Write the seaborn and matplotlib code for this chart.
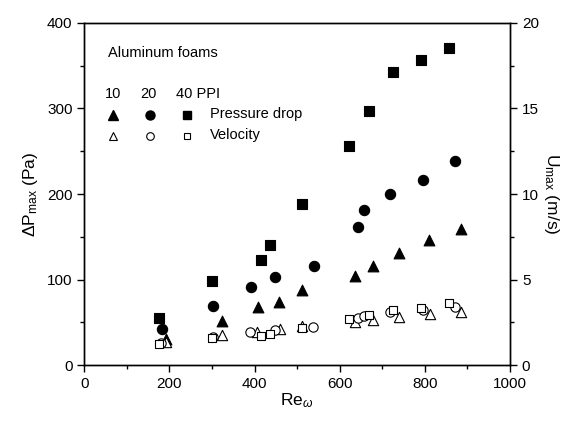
import numpy as np
import pandas as pd
import matplotlib
matplotlib.use("Agg")
import matplotlib.pyplot as plt
import seaborn as sns
from matplotlib.ticker import MultipleLocator

# ---- data ----
re_10 = [191, 324, 408, 457, 512, 636, 677, 740, 810, 885]
re_20 = [182, 303, 391, 449, 539, 643, 657, 718, 795, 871]
re_40 = [176, 300, 414, 435, 511, 622, 669, 725, 792, 856]
dp_10 = [30.5, 52, 67.6, 74, 88, 104.7, 116.4, 131, 146.5, 159]
dp_20 = [42, 69.5, 91, 102.7, 116, 161, 181, 199.6, 216, 238]
dp_40 = [54.7, 98.8, 123, 140, 188.7, 256, 297, 342, 356, 371]
reu_10 = [191, 324, 406, 459, 512, 635, 677, 740, 812, 885]
reu_20 = [180, 303, 390, 449, 537, 643, 657, 718, 795, 871]
reu_40 = [176, 300, 414, 435, 511, 621, 669, 725, 792, 856]
u_10 = [1.37, 1.78, 1.95, 2.10, 2.27, 2.50, 2.65, 2.83, 2.99, 3.12]
u_20 = [1.29, 1.68, 1.95, 2.07, 2.25, 2.74, 2.89, 3.09, 3.22, 3.42]
u_40 = [1.23, 1.58, 1.72, 1.82, 2.20, 2.70, 2.93, 3.24, 3.36, 3.63]

sns.set_style("ticks")
plt.rcParams['font.family'] = ['Liberation Sans', 'DejaVu Sans']
plt.rcParams['mathtext.fontset'] = 'custom'
plt.rcParams['mathtext.rm'] = 'Liberation Sans'
plt.rcParams['mathtext.it'] = 'Liberation Sans:italic'
plt.rcParams['mathtext.sf'] = 'Liberation Sans'
plt.rcParams['text.color'] = 'black'
plt.rcParams['axes.labelcolor'] = 'black'
plt.rcParams['xtick.color'] = 'black'
plt.rcParams['ytick.color'] = 'black'

fig = plt.figure(figsize=(5.76, 4.23), dpi=100)
ax = fig.add_axes([0.1464, 0.1364, 0.7391, 0.8099])
ax2 = ax.twinx()

sizes = {'^': 60, 'o': 55, 's': 45}
for xs, ys, m in [(re_10, dp_10, '^'), (re_20, dp_20, 'o'), (re_40, dp_40, 's')]:
    sns.scatterplot(x=xs, y=ys, marker=m, s=sizes[m], color='black',
                    edgecolor='black', linewidth=0.8, ax=ax, legend=False)
osizes = {'^': 55, 'o': 45, 's': 38}
for xs, ys, m in [(reu_10, u_10, '^'), (reu_20, u_20, 'o'), (reu_40, u_40, 's')]:
    sns.scatterplot(x=xs, y=ys, marker=m, s=osizes[m], facecolor='white',
                    edgecolor='black', linewidth=0.8, ax=ax2, legend=False)

ax.set_xlim(0, 1000)
ax.set_ylim(0, 400)
ax2.set_ylim(0, 20)
ax.xaxis.set_major_locator(MultipleLocator(200))
ax.xaxis.set_minor_locator(MultipleLocator(100))
ax.yaxis.set_major_locator(MultipleLocator(100))
ax.yaxis.set_minor_locator(MultipleLocator(50))
ax2.yaxis.set_major_locator(MultipleLocator(5))
ax2.yaxis.set_minor_locator(MultipleLocator(2.5))

for a in (ax, ax2):
    for sp in a.spines.values():
        sp.set_visible(True)
        sp.set_linewidth(1.0)
        sp.set_color('black')
ax.tick_params(axis='both', which='major', direction='out', length=5, width=1,
               labelsize=11, colors='black', top=False, right=False)
ax.tick_params(axis='both', which='minor', direction='out', length=3, width=1,
               top=False, right=False)
ax2.tick_params(axis='y', which='major', direction='out', length=5, width=1,
                labelsize=11, colors='black')
ax2.tick_params(axis='y', which='minor', direction='out', length=3, width=1)

ax.set_xlabel(r'Re$_{\omega}$', fontsize=12.5, labelpad=0)
ax.set_ylabel(r'$\Delta$P$_{\mathrm{max}}$ (Pa)', fontsize=12.5, labelpad=5)
ax2.set_ylabel(r'U$_{\mathrm{max}}$ (m/s)', fontsize=12.5, rotation=270, labelpad=16)

# ---- legend drawn as text + key markers ----
tr = ax.transAxes
def fx(px):
    return (px - 84.3) / 425.7
def fy(py):
    return (365.3 - py) / 342.6
ax.text(fx(108), fy(53), 'Aluminum foams', transform=tr, fontsize=10.5, va='center', ha='left')
ax.text(fx(105), fy(94), '10', transform=tr, fontsize=10.5, va='center', ha='left')
ax.text(fx(140), fy(94), '20', transform=tr, fontsize=10.5, va='center', ha='left')
ax.text(fx(176), fy(94), '40 PPI', transform=tr, fontsize=10.5, va='center', ha='left')
ax.text(fx(210), fy(114), 'Pressure drop', transform=tr, fontsize=10.5, va='center', ha='left')
ax.text(fx(210), fy(135), 'Velocity', transform=tr, fontsize=10.5, va='center', ha='left')
for xp, m, ms in [(113, '^', 7), (150, 'o', 6.5), (187, 's', 5.5)]:
    ax.plot([fx(xp)], [fy(115)], marker=m, ms=ms, color='black', transform=tr, clip_on=False)
    ax.plot([fx(xp)], [fy(136)], marker=m, ms=ms - 1, mfc='white', mec='black',
            mew=0.8, transform=tr, clip_on=False)

fig.savefig('out.png', dpi=100)
